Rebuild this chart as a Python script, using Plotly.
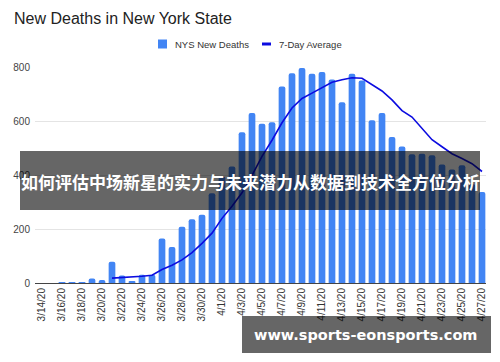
import plotly.graph_objects as go

# ---------------- data ----------------
dates = (["3/%d/20" % d for d in range(14, 32)] +
         ["4/%d/20" % d for d in range(1, 28)])
deaths = [0, 0, 3, 3, 3, 17, 11, 79, 28, 7, 31, 31, 165, 134, 209, 237, 253, 333,
          395, 433, 560, 631, 591, 597, 730, 779, 798, 777, 783, 756, 671, 777, 752,
          604, 631, 542, 507, 478, 480, 474, 440, 421, 437, 367, 338]
avg7 = [None, None, None, None, None, None, None,
        18, 20, 21, 25, 29, 50, 66, 86, 113, 147, 185,
        240, 285, 335, 400, 470, 530, 595, 650, 685, 705, 725, 745, 755, 762, 760,
        735, 713, 680, 640, 616, 575, 532, 506, 480, 462, 443, 414]
tick_labels = dates[::2]
y_ticks = [0, 200, 400, 600, 800]

title_text = "New Deaths in New York State"
bar_name = "NYS New Deaths"
line_name = "7-Day Average"
banner_text = "如何评估中场新星的实力与未来潜力从数据到技术全方位分析"
watermark_text = "www.sports-eonsports.com"

# ---------------- layout geometry (window pixels) ----------------
OFF = 8                      # default page body margin
WIN_W, WIN_H = 500, 362
W, H = WIN_W - OFF, WIN_H - OFF
L, R, T, B = 35, 486, 67, 283   # plot area in window pixels


def px(x):
    return (x - L) / (R - L)


def py(y):
    return (B - y) / (B - T)


BAR_COLOR = "#4285F4"
LINE_COLOR = "#0c0ce0"
FONT = "Arial, Liberation Sans, sans-serif"

fig = go.Figure()
fig.add_trace(go.Bar(x=dates, y=deaths, name=bar_name,
                     marker=dict(color=BAR_COLOR, line=dict(width=0), cornerradius=2),
                     showlegend=False))
fig.add_trace(go.Scatter(x=dates, y=avg7, name=line_name, mode="lines",
                         line=dict(color=LINE_COLOR, width=1.6),
                         connectgaps=False, showlegend=False))

shapes = []
annotations = []

# manual legend
shapes.append(dict(type="rect", xref="paper", yref="paper",
                   x0=px(158), x1=px(167), y0=py(48.5), y1=py(39.5),
                   fillcolor=BAR_COLOR, line=dict(width=0)))
annotations.append(dict(xref="paper", yref="paper", x=px(173), y=py(44),
                        text=bar_name, showarrow=False, xanchor="left", yanchor="middle",
                        font=dict(family=FONT, size=9.5, color="#333")))
shapes.append(dict(type="line", xref="paper", yref="paper",
                   x0=px(262), x1=px(271), y0=py(44), y1=py(44),
                   line=dict(color=LINE_COLOR, width=3)))
annotations.append(dict(xref="paper", yref="paper", x=px(277), y=py(44),
                        text=line_name, showarrow=False, xanchor="left", yanchor="middle",
                        font=dict(family=FONT, size=9.5, color="#333")))

# overlay banner
shapes.append(dict(type="rect", xref="paper", yref="paper", layer="above",
                   x0=px(20), x1=px(480), y0=py(210), y1=py(151),
                   fillcolor="rgba(0,0,0,0.6)", line=dict(width=0)))
annotations.append(dict(xref="paper", yref="paper", x=px(250), y=py(181),
                        text="<b>%s</b>" % banner_text, showarrow=False,
                        xanchor="center", yanchor="middle",
                        font=dict(family="Noto Sans CJK SC", size=17, color="white")))

# watermark
shapes.append(dict(type="rect", xref="paper", yref="paper", layer="above",
                   x0=px(242), x1=px(491), y0=py(353), y1=py(316),
                   fillcolor="rgba(0,0,0,0.6)", line=dict(width=0)))
annotations.append(dict(xref="paper", yref="paper", x=px(365), y=py(335),
                        text="<b>%s</b>" % watermark_text, showarrow=False,
                        xanchor="center", yanchor="middle",
                        font=dict(family="DejaVu Sans", size=14.5, color="white")))

fig.update_layout(
    width=W, height=H,
    margin=dict(l=L - OFF, r=WIN_W - R, t=T - OFF, b=WIN_H - B, autoexpand=False),
    paper_bgcolor="white", plot_bgcolor="white",
    title=dict(text=title_text, xref="container", yref="container",
               x=(14 - OFF) / W, y=1 - (18 - OFF) / H, xanchor="left", yanchor="middle",
               font=dict(family=FONT, size=16, color="#222")),
    bargap=0.33,
    showlegend=False,
    shapes=shapes,
    annotations=annotations,
    xaxis=dict(type="category", range=[-0.7, 44.4],
               tickmode="array", tickvals=tick_labels, ticktext=tick_labels,
               tickangle=-90, tickfont=dict(family=FONT, size=10, color="#333"),
               showgrid=False, showline=True, linecolor="#444", linewidth=1,
               ticks=""),
    yaxis=dict(range=[0, 802], tickvals=y_ticks, showgrid=True,
               gridcolor="#e4e4e4", gridwidth=1, zeroline=True, zerolinecolor="#444",
               zerolinewidth=1, tickfont=dict(family=FONT, size=10, color="#444"),
               ticks="", ticklabelstandoff=4),
)

fig.write_html("out.html")
